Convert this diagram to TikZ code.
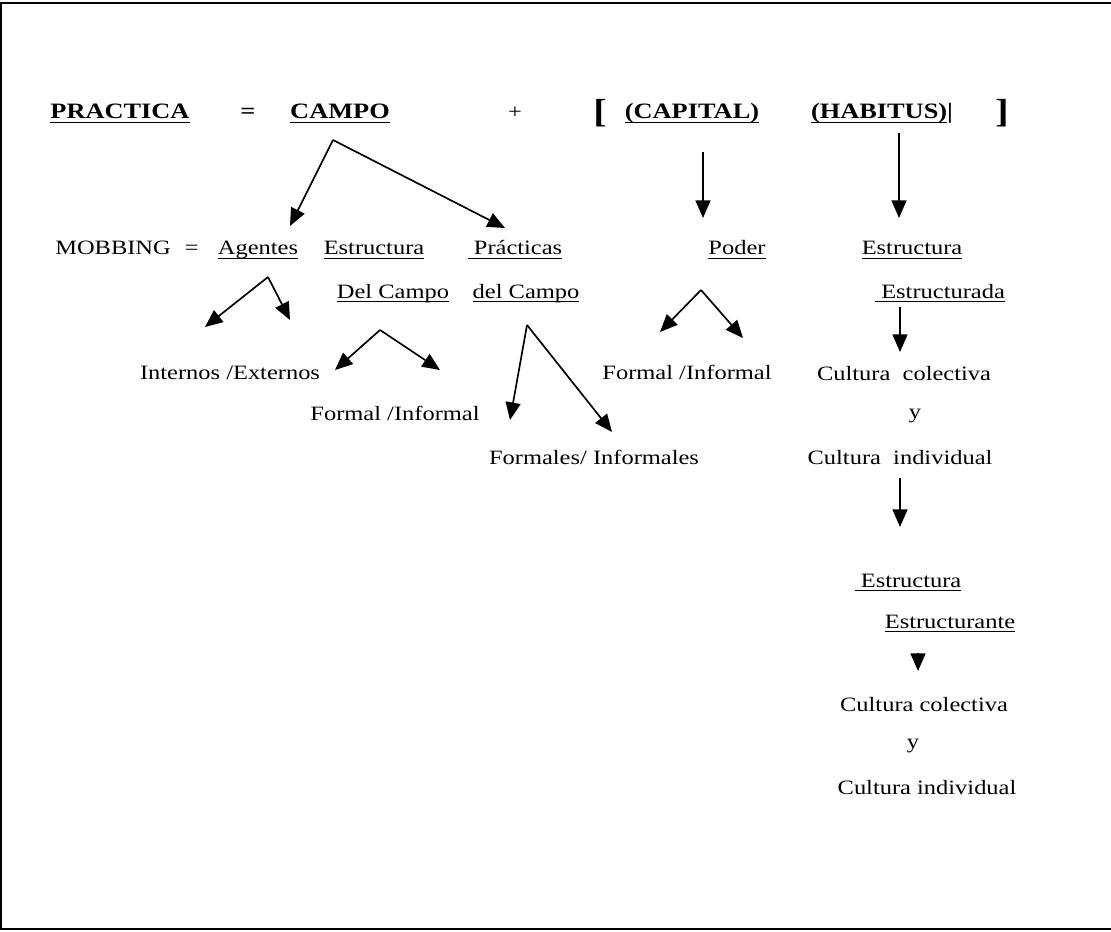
\documentclass[tikz,border=0pt]{standalone}
\usepackage{fontspec}
\setmainfont{Liberation Serif}[FakeStretch=1.2]
\usetikzlibrary{arrows.meta}

\newcommand{\uln}[1]{\setbox0\hbox{#1}\leavevmode\rlap{\rule[-2.2pt]{\wd0}{0.7pt}}\box0}

\begin{document}
\begin{tikzpicture}[x=0.02cm, y=-0.02cm,
  txt/.style={anchor=base, inner sep=0pt, font=\fontsize{11.6}{13}\selectfont},
  head/.style={anchor=base, inner sep=0pt, font=\fontsize{12.5}{14}\selectfont\bfseries},
  brk/.style={anchor=base, inner sep=0pt, font=\fontsize{19}{20}\selectfont\bfseries},
  arr/.style={-{Triangle[length=10pt,width=8.5pt]}, line width=0.95pt},
  frame/.style={line width=1.6pt}
]
\useasboundingbox (0,0) rectangle (1111,932);
\draw[frame] (1111,3) -- (1,3) -- (1,929) -- (1111,929);

% header line
\node[head] (practica) at (120,119) {\uln{PRACTICA}};
\node[head] (eqhead) at (248,119) {=};
\node[head] (campo) at (340,119) {\uln{CAMPO}};
\node[txt] (plus) at (515,119) {+};
\node[brk] (lbrack) at (600,123) {[};
\node[head] (capital) at (692,119) {\uln{(CAPITAL)}};
\node[head] (habitus) at (882,119) {\uln{(HABITUS)}|};
\node[brk] (rbrack) at (1002,123) {]};

% second line
\node[txt] (mobbing) at (127,255) {MOBBING\hspace{8pt}=};
\node[txt] (agentes) at (258,255) {\uln{Agentes}};
\node[txt] (estrA) at (374,255) {\uln{Estructura}};
\node[txt] (practicas) at (515,255) {\uln{\ Prácticas}};
\node[txt] (poder) at (737,255) {\uln{Poder}};
\node[txt] (estrB) at (912,255) {\uln{Estructura}};
\node[txt] (delcampoA) at (393,298) {\uln{Del Campo}};
\node[txt] (delcampoB) at (526,298) {\uln{del Campo}};
\node[txt] (estructurada) at (940,298) {\uln{\ Estructurada}};

% lower texts
\node[txt] (internos) at (230,379) {Internos /Externos};
\node[txt] (formalA) at (395,420) {Formal /Informal};
\node[txt] (formales) at (594,464) {Formales/ Informales};
\node[txt] (formalB) at (687,379) {Formal /Informal};
\node[txt] (colectA) at (904,380) {Cultura\ \ colectiva};
\node[txt] (yA) at (915,418) {y};
\node[txt] (indivA) at (900,464) {Cultura\ \ individual};
\node[txt] (estrC) at (908,587) {\uln{\ Estructura}};
\node[txt] (estructurante) at (950,628) {\uln{Estructurante}};
\node[txt] (colectB) at (924,711) {Cultura colectiva};
\node[txt] (yB) at (913,748) {y};
\node[txt] (indivB) at (927,794) {Cultura individual};

% arrow points
\coordinate (campoTop) at (333,140);
\coordinate (agentesTip) at (290,226);
\coordinate (practicasTip) at (505,228);
\coordinate (capitalTop) at (703,152);
\coordinate (poderTip) at (703,218);
\coordinate (habitusTop) at (899,133);
\coordinate (estrBTip) at (899,218);
\coordinate (agentesTop) at (268,277);
\coordinate (internosTipL) at (205,327);
\coordinate (internosTipR) at (290,320);
\coordinate (delATop) at (380,330);
\coordinate (delATipL) at (335,370);
\coordinate (delATipR) at (440,370);
\coordinate (delBTop) at (527,325);
\coordinate (delBTipL) at (510,420);
\coordinate (delBTipR) at (612,432);
\coordinate (poderTop) at (701,290);
\coordinate (poderTipL) at (660,332);
\coordinate (poderTipR) at (743,338);
\coordinate (estradaTop) at (900,307);
\coordinate (estradaTip) at (900,352);
\coordinate (indivTop) at (900,478);
\coordinate (indivTip) at (900,527);
\coordinate (estranteTop) at (918,653);
\coordinate (estranteTip) at (918,671);

\draw[arr] (campoTop) -- (agentesTip);
\draw[arr] (campoTop) -- (practicasTip);
\draw[arr] (capitalTop) -- (poderTip);
\draw[arr] (habitusTop) -- (estrBTip);
\draw[arr] (agentesTop) -- (internosTipL);
\draw[arr] (agentesTop) -- (internosTipR);
\draw[arr] (delATop) -- (delATipL);
\draw[arr] (delATop) -- (delATipR);
\draw[arr] (delBTop) -- (delBTipL);
\draw[arr] (delBTop) -- (delBTipR);
\draw[arr] (poderTop) -- (poderTipL);
\draw[arr] (poderTop) -- (poderTipR);
\draw[arr] (estradaTop) -- (estradaTip);
\draw[arr] (indivTop) -- (indivTip);
\draw[arr] (estranteTop) -- (estranteTip);

\end{tikzpicture}
\end{document}
